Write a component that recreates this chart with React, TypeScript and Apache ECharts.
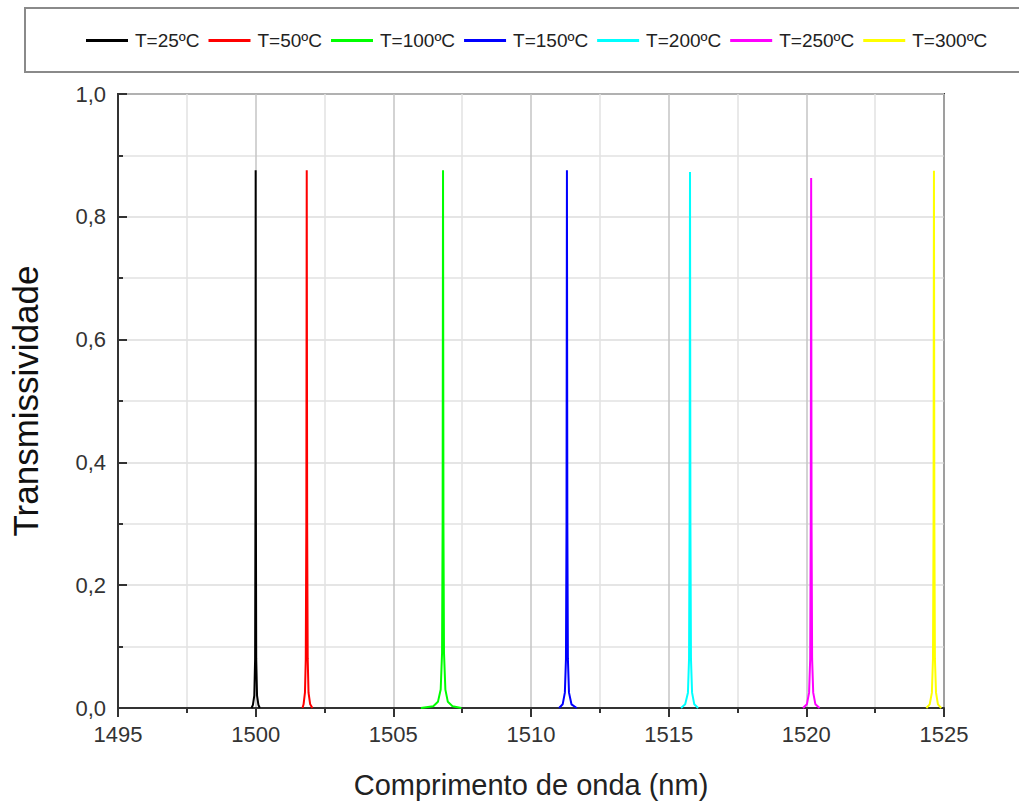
import React, { useEffect, useRef } from "react";
import * as echarts from "echarts";

// Transmission peaks of the grating at each temperature: [wavelength (nm), transmissivity]
const seriesNames = ["T=25ºC", "T=50ºC", "T=100ºC", "T=150ºC", "T=200ºC", "T=250ºC", "T=300ºC"];
const seriesColors = ["#000000", "#ff0000", "#00ff00", "#0000ff", "#00ffff", "#ff00ff", "#ffff00"];

const peak25 = [
  [1499.85, 0], [1499.9, 0.005], [1499.95, 0.02], [1499.98, 0.08], [1499.995, 0.4],
  [1500.0, 0.876], [1500.005, 0.4], [1500.02, 0.08], [1500.05, 0.02], [1500.1, 0.005], [1500.15, 0],
];
const peak50 = [
  [1501.7, 0], [1501.74, 0.006], [1501.79, 0.025], [1501.82, 0.08], [1501.84, 0.3],
  [1501.855, 0.876], [1501.87, 0.3], [1501.89, 0.08], [1501.92, 0.025], [1501.98, 0.006], [1502.06, 0],
];
const peak100 = [
  [1506.0, 0], [1506.45, 0.003], [1506.62, 0.01], [1506.72, 0.03], [1506.77, 0.09], [1506.79, 0.3],
  [1506.805, 0.876], [1506.82, 0.3], [1506.84, 0.09], [1506.89, 0.03], [1506.98, 0.01], [1507.15, 0.003], [1507.47, 0],
];
const peak150 = [
  [1511.02, 0], [1511.15, 0.006], [1511.23, 0.025], [1511.27, 0.08], [1511.29, 0.3],
  [1511.305, 0.876], [1511.32, 0.3], [1511.34, 0.08], [1511.38, 0.025], [1511.47, 0.006], [1511.66, 0],
];
const peak200 = [
  [1515.45, 0], [1515.6, 0.006], [1515.7, 0.025], [1515.74, 0.08], [1515.76, 0.3],
  [1515.775, 0.873], [1515.79, 0.3], [1515.81, 0.08], [1515.85, 0.025], [1515.93, 0.006], [1516.07, 0],
];
const peak250 = [
  [1519.88, 0], [1520.02, 0.006], [1520.1, 0.025], [1520.14, 0.08], [1520.16, 0.3],
  [1520.175, 0.863], [1520.19, 0.3], [1520.21, 0.08], [1520.25, 0.025], [1520.33, 0.006], [1520.48, 0],
];
const peak300 = [
  [1524.36, 0], [1524.48, 0.006], [1524.56, 0.025], [1524.6, 0.08], [1524.62, 0.3],
  [1524.635, 0.875], [1524.65, 0.3], [1524.67, 0.08], [1524.71, 0.025], [1524.78, 0.006], [1524.9, 0],
];
const seriesData = [peak25, peak50, peak100, peak150, peak200, peak250, peak300];

const xMin = 1495;
const xMax = 1525;
const xStep = 5;
const yMin = 0;
const yMax = 1;
const yStep = 0.2;

export default function App() {
  const ref = useRef<HTMLDivElement>(null);

  useEffect(() => {
    document.body.style.margin = "0";
    if (!ref.current) return;
    const chart = echarts.init(ref.current, null, { renderer: "svg" });
    const font = "'Liberation Sans', Arial, sans-serif";

    chart.setOption({
      animation: false,
      backgroundColor: "#ffffff",
      textStyle: { fontFamily: font },
      graphic: [
        {
          type: "rect",
          shape: { x: 25, y: 8, width: 1010, height: 64 },
          style: { fill: "none", stroke: "#8a8a8a", lineWidth: 2 },
          silent: true,
        },
      ],
      legend: {
        top: 26,
        left: 81,
        icon: "rect",
        itemWidth: 42,
        itemHeight: 3,
        itemGap: 9,
        textStyle: { fontSize: 19, color: "#222", fontFamily: font, padding: [0, 0, 0, 2] },
        data: seriesNames,
      },
      grid: {
        left: 118,
        right: 75,
        top: 94,
        bottom: 93,
        show: true,
        borderColor: "#333",
        borderWidth: 2,
        containLabel: false,
        outerBoundsMode: "none",
      },
      xAxis: {
        type: "value",
        min: xMin,
        max: xMax,
        interval: xStep,
        name: "Comprimento de onda (nm)",
        nameLocation: "middle",
        nameGap: 62,
        nameTextStyle: { fontSize: 29, color: "#222", fontFamily: font },
        axisLine: { show: true, lineStyle: { color: "#333", width: 2 } },
        axisTick: { show: true, inside: false, length: 9, lineStyle: { color: "#333", width: 2 } },
        minorTick: { show: true, splitNumber: 2, length: 5, lineStyle: { color: "#333", width: 2 } },
        axisLabel: {
          fontSize: 22,
          color: "#333",
          margin: 15,
          fontFamily: font,
          formatter: (v: number) => String(v),
        },
        splitLine: { show: true, lineStyle: { color: "#c4c4c4", width: 1.5 } },
        minorSplitLine: { show: true, lineStyle: { color: "#e2e2e2", width: 1.5 } },
      },
      yAxis: {
        type: "value",
        min: yMin,
        max: yMax,
        interval: yStep,
        name: "Transmissividade",
        nameLocation: "middle",
        nameGap: 75,
        nameTextStyle: { fontSize: 35, color: "#111", fontFamily: font },
        axisLine: { show: true, lineStyle: { color: "#333", width: 2 } },
        axisTick: { show: true, inside: true, length: 9, lineStyle: { color: "#333", width: 2 } },
        minorTick: { show: true, splitNumber: 2, length: 5, lineStyle: { color: "#333", width: 2 } },
        axisLabel: {
          fontSize: 22,
          color: "#333",
          margin: 12,
          fontFamily: font,
          formatter: (v: number) => v.toFixed(1).replace(".", ","),
        },
        splitLine: { show: true, lineStyle: { color: "#dcdcdc", width: 1.5 } },
        minorSplitLine: { show: true, lineStyle: { color: "#e2e2e2", width: 1.5 } },
      },
      series: seriesNames.map((name, i) => ({
        name,
        type: "line",
        data: seriesData[i],
        symbol: "none",
        showSymbol: false,
        color: seriesColors[i],
        lineStyle: { color: seriesColors[i], width: 2 },
        z: 3,
      })),
    });

    return () => chart.dispose();
  }, []);

  return <div ref={ref} style={{ width: 1019, height: 801 }} />;
}
